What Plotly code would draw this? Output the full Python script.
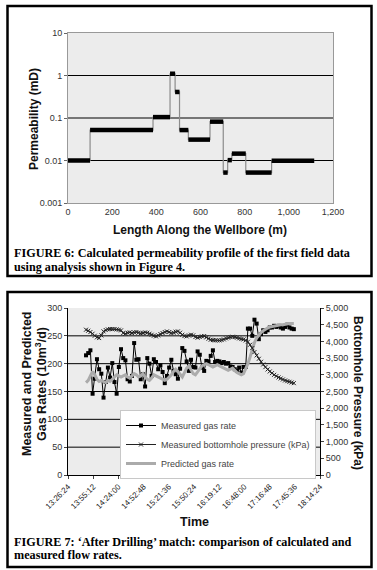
import plotly.graph_objects as go

W, H = 377, 570

# ---------------- Figure 6 data ----------------
seg_start = [0, 100, 385, 462, 485, 505, 545, 643, 703, 723, 742, 805, 922]
seg_end = [100, 385, 462, 485, 505, 545, 643, 703, 723, 742, 805, 922, 1115]
perm = [0.01, 0.052, 0.105, 1.1, 0.41, 0.052, 0.031, 0.082, 0.0052, 0.0102, 0.0145, 0.0052, 0.0098]
len_ticks = [0, 200, 400, 600, 800, 1000, 1200]
len_tick_labels = ["0", "200", "400", "600", "800", "1,000", "1,200"]
perm_ticks = [0.001, 0.01, 0.1, 1, 10]
perm_tick_labels = ["0.001", "0.01", "0.1", "1", "10"]

# ---------------- Figure 7 data ----------------
times = [
    "13:47:00", "13:49:30", "13:52:00", "13:54:30", "13:57:00", "13:59:30", "14:02:00", "14:04:30",
    "14:07:00", "14:09:30", "14:12:00", "14:14:30", "14:17:00", "14:19:30", "14:22:00", "14:24:30",
    "14:27:00", "14:29:30", "14:32:00", "14:34:30", "14:37:00", "14:39:30", "14:42:00", "14:44:30",
    "14:47:00", "14:49:30", "14:52:00", "14:54:30", "14:57:00", "14:59:30", "15:02:00", "15:04:30",
    "15:07:00", "15:09:30", "15:12:00", "15:14:30", "15:17:00", "15:19:30", "15:22:00", "15:24:30",
    "15:27:00", "15:29:30", "15:32:00", "15:34:30", "15:37:00", "15:39:30", "15:42:00", "15:44:30",
    "15:47:00", "15:49:30", "15:52:00", "15:54:30", "15:57:00", "15:59:30", "16:02:00", "16:04:30",
    "16:07:00", "16:09:30", "16:12:00", "16:14:30", "16:17:00", "16:19:30", "16:22:00", "16:24:30",
    "16:27:00", "16:29:30", "16:32:00", "16:34:30", "16:37:00", "16:39:30", "16:42:00", "16:44:30",
    "16:47:00", "16:49:30", "16:52:00", "16:54:30", "16:57:00", "16:59:30", "17:02:00", "17:04:30",
    "17:07:00", "17:09:30", "17:12:00", "17:14:30", "17:17:00", "17:19:30", "17:22:00", "17:24:30",
    "17:27:00", "17:29:30", "17:32:00", "17:34:30", "17:37:00", "17:39:30", "17:42:00", "17:44:30",
]
measured_rate = [
    215, 219, 224, 146, 173, 208, 190, 182, 139, 167,
    193, 175, 201, 167, 146, 194, 226, 210, 206, 172,
    168, 178, 237, 207, 208, 172, 181, 159, 210, 200,
    178, 208, 203, 190, 197, 185, 165, 178, 193, 207,
    187, 181, 173, 191, 228, 223, 204, 187, 207, 194,
    193, 222, 216, 193, 187, 205, 204, 214, 224, 203,
    205, 204, 201, 203, 200, 201, 195, 194, 190, 187,
    193, 184, 194, 194, 263, 263, 250, 279, 272, 244,
    253, 260, 257, 260, 265, 265, 268, 266, 268, 265,
    263, 266, 270, 265, 263, 262,
]
bh_pressure = [
    4350, 4320, 4280, 4230, 4170, 4120, 4100, 4180, 4300, 4340,
    4360, 4370, 4370, 4370, 4360, 4350, 4330, 4250, 4230, 4260,
    4270, 4250, 4270, 4280, 4260, 4240, 4250, 4270, 4260, 4230,
    4200, 4170, 4150, 4180, 4220, 4250, 4280, 4300, 4280, 4250,
    4260, 4290, 4300, 4260, 4200, 4160, 4150, 4180, 4200, 4180,
    4130, 4110, 4130, 4150, 4160, 4120, 4080, 4050, 4040, 4030,
    4030, 4030, 4040, 4060, 4090, 4110, 4130, 4140, 4130, 4110,
    4090, 4070, 4060, 4030, 3990, 3900, 3800, 3680, 3580, 3480,
    3390, 3310, 3230, 3160, 3100, 3050, 3000, 2960, 2920, 2890,
    2860, 2830, 2810, 2790, 2770, 2750,
]
predicted_rate = [
    166, 170, 178, 186, 180, 172, 168, 170, 168, 166,
    170, 168, 172, 176, 180, 178, 176, 178, 180, 176,
    174, 178, 182, 180, 176, 178, 182, 176, 172, 170,
    174, 180, 178, 176, 174, 172, 170, 172, 176, 180,
    186, 190, 186, 180, 176, 184, 192, 196, 188, 182,
    180, 186, 192, 196, 198, 200, 198, 196, 194, 196,
    198, 196, 194, 192, 190, 188, 190, 192, 188, 184,
    182, 180, 182, 190, 200, 212, 225, 238, 246, 252,
    256, 259, 262, 264, 266, 267, 268, 268, 269, 270,
    270, 271, 272, 272, 272, 272,
]
time_ticks = ["13:26:24", "13:55:12", "14:24:00", "14:52:48", "15:21:36", "15:50:24",
              "16:19:12", "16:48:00", "17:16:48", "17:45:36", "18:14:24"]
rate_ticks = [0, 50, 100, 150, 200, 250, 300]
pressure_ticks = [0, 500, 1000, 1500, 2000, 2500, 3000, 3500, 4000, 4500, 5000]

DAY = "2024-01-01 "

SANS = "Liberation Sans, Arial, sans-serif"
SERIF = "Liberation Serif, Times New Roman, serif"

def px(x):
    return x / W

def py(y):
    return 1 - y / H

fig = go.Figure()

# ---- Figure 6 traces
fig.add_trace(go.Scatter(
    x=seg_start + [seg_end[-1]], y=perm + [perm[-1]], mode="lines",
    line=dict(color="#8c8c8c", width=1.2, shape="hv"),
    xaxis="x", yaxis="y", showlegend=False, hoverinfo="skip"))
bx, by = [], []
for s, e, p in zip(seg_start, seg_end, perm):
    bx += [s, e, None]
    by += [p, p, None]
fig.add_trace(go.Scatter(
    x=bx, y=by, mode="lines", line=dict(color="black", width=4.5),
    xaxis="x", yaxis="y", showlegend=False, hoverinfo="skip"))

# ---- Figure 7 traces
tx = [DAY + t for t in times]
fig.add_trace(go.Scatter(
    x=tx, y=measured_rate, mode="lines+markers", name="Measured gas rate",
    line=dict(color="black", width=1), marker=dict(symbol="square", size=4, color="black"),
    xaxis="x2", yaxis="y2"))
fig.add_trace(go.Scatter(
    x=tx, y=bh_pressure, mode="lines+markers", name="Measured bottomhole pressure (kPa)",
    line=dict(color="#222", width=1), marker=dict(symbol="x-thin", size=4, color="#222",
                                                   line=dict(width=1, color="#222")),
    xaxis="x2", yaxis="y3"))
fig.add_trace(go.Scatter(
    x=tx, y=predicted_rate, mode="lines", name="Predicted gas rate",
    line=dict(color="#ababab", width=3),
    xaxis="x2", yaxis="y2"))

# gridlines (interior ticks only)
shapes = []
for v in perm_ticks[1:-1]:
    shapes.append(dict(type="line", xref="x domain", x0=0, x1=1, yref="y", y0=v, y1=v,
                       line=dict(color="black", width=1), layer="below"))
for v in rate_ticks[1:-1]:
    shapes.append(dict(type="line", xref="x2 domain", x0=0, x1=1, yref="y2", y0=v, y1=v,
                       line=dict(color="black", width=1), layer="below"))
# figure frames
for (top, bot) in [(6, 276), (292, 567)]:
    shapes.append(dict(type="rect", xref="paper", yref="paper",
                       x0=px(7.5), x1=px(371.5), y0=py(bot), y1=py(top),
                       line=dict(color="black", width=2.5)))
fig.update_layout(shapes=shapes)

tickfont = dict(family=SANS, size=9, color="#333")

fig.update_layout(
    width=W, height=H, margin=dict(l=0, r=0, t=0, b=0, autoexpand=False),
    paper_bgcolor="white", plot_bgcolor="#ececec",
    xaxis=dict(domain=[px(68), px(333)], anchor="y", range=[0, 1200], automargin=False,
               tickvals=len_ticks, ticktext=len_tick_labels, tickfont=tickfont,
               showgrid=False, zeroline=False, showline=True, linecolor="#999", mirror=True,
               ticks="", ticklen=0),
    yaxis=dict(domain=[py(203), py(33)], anchor="x", type="log", range=[-3, 1], automargin=False,
               tickvals=perm_ticks, ticktext=perm_tick_labels, tickfont=tickfont,
               showgrid=False, zeroline=False, showline=True, linecolor="#999", mirror=True,
               ticks="outside", ticklen=3, tickcolor="#666"),
    xaxis2=dict(domain=[px(68), px(320)], anchor="y2", type="date", automargin=False,
                range=[DAY + time_ticks[0], DAY + time_ticks[-1]],
                tickvals=[DAY + t for t in time_ticks], ticktext=time_ticks,
                tickangle=-45, tickfont=dict(family=SANS, size=8, color="#222"),
                showgrid=False, zeroline=False, showline=True, linecolor="black",
                ticks="outside", ticklen=3, tickcolor="#444"),
    yaxis2=dict(domain=[py(475), py(308)], anchor="x2", range=[0, 300], automargin=False,
                tickvals=rate_ticks, tickfont=tickfont,
                showgrid=False, zeroline=False, showline=True, linecolor="black",
                ticks="outside", ticklen=3, tickcolor="#444"),
    yaxis3=dict(overlaying="y2", anchor="x2", side="right", range=[0, 5000], automargin=False,
                tickvals=pressure_ticks, tickformat=",", tickfont=tickfont,
                showgrid=False, zeroline=False, showline=True, linecolor="black",
                ticks="outside", ticklen=3, tickcolor="#444"),
    legend=dict(x=px(120), y=py(410), xanchor="left", yanchor="top",
                bgcolor="white", bordercolor="#c8c8c8", borderwidth=1,
                font=dict(family=SANS, size=9, color="#444"),
                tracegroupgap=0, itemwidth=30),
    showlegend=True,
)

def ann(text, x, y, size, family=SANS, angle=0, xanchor="center", color="#111"):
    fig.add_annotation(text=text, x=px(x), y=py(y), xref="paper", yref="paper",
                       showarrow=False, textangle=angle, xanchor=xanchor, yanchor="middle",
                       font=dict(family=family, size=size, color=color))

ann("<b>Permeability (mD)</b>", 34, 119, 12, angle=-90)
ann("<b>Length Along the Wellbore (m)</b>", 200, 230, 12)
ann("<b>FIGURE 6: Calculated permeability profile of the first field data</b>", 12, 253, 12.2,
    family=SERIF, xanchor="left", color="black")
ann("<b>using analysis shown in Figure 4.</b>", 12, 267, 12.2, family=SERIF, xanchor="left", color="black")

ann("<b>Measured and Predicted</b>", 27, 384, 12.5, angle=-90)
ann("<b>Gas Rates (10m<sup>3</sup>/d)</b>", 41, 384, 12.5, angle=-90)
ann("<b>Bottomhole Pressure (kPa)</b>", 358, 393, 12, angle=90)
ann("<b>Time</b>", 194, 522, 12.5)
ann("<b>FIGURE 7: \u2018After Drilling\u2019 match: comparison of calculated and</b>", 12, 542, 12.2,
    family=SERIF, xanchor="left", color="black")
ann("<b>measured flow rates.</b>", 12, 555, 12.2, family=SERIF, xanchor="left", color="black")

fig.write_html("out.html", config={"displayModeBar": False},
               post_script="document.body.style.margin='0';")
